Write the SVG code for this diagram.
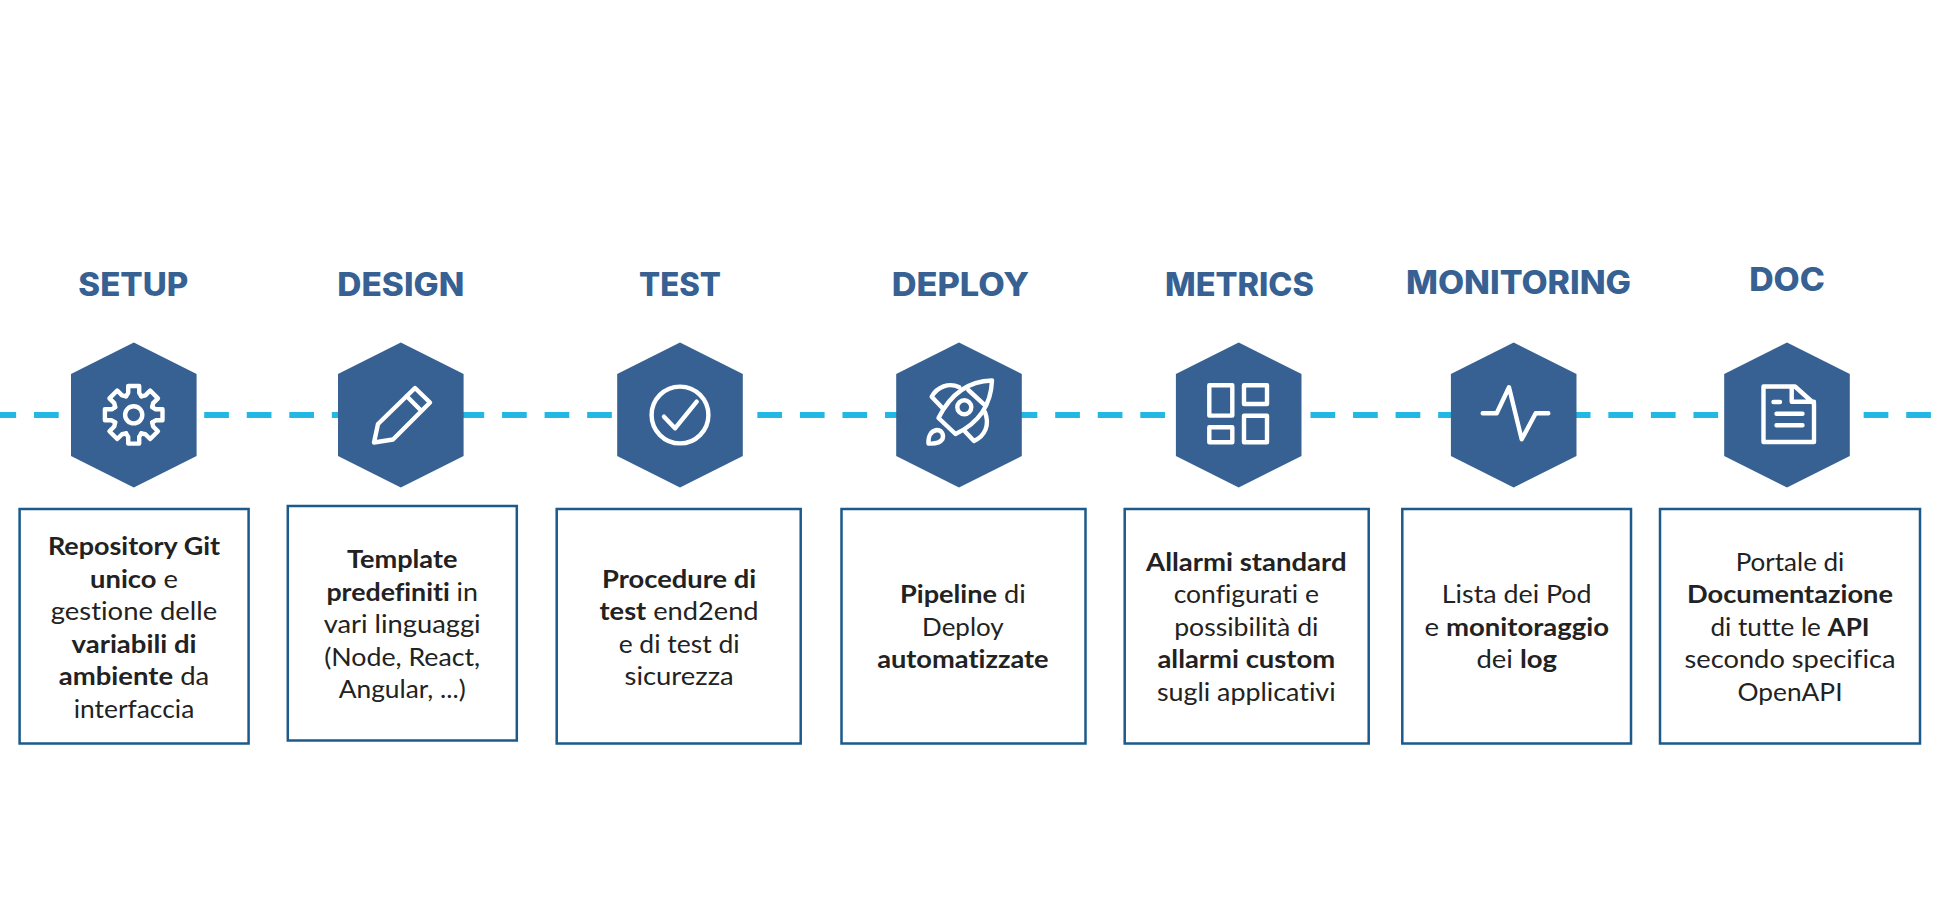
<svg xmlns="http://www.w3.org/2000/svg" width="1940" height="912" viewBox="0 0 1940 912">
<style>
.hex{fill:#366192}
.ttl{font-family:"Inter","Liberation Sans",sans-serif;font-weight:800;font-size:32px;fill:#376192;text-anchor:middle}
.box{fill:#fff;stroke:#1b5a8a;stroke-width:2.5}
.t{font-family:"Lato","Liberation Sans",sans-serif;font-size:25.5px;fill:#222;text-anchor:middle;font-variant-ligatures:none}
.b{font-weight:700}
.ic{fill:none;stroke:#fff;stroke-width:4.4;stroke-linejoin:round;stroke-linecap:round}
.dash{fill:none;stroke:#22b8e3;stroke-width:6;stroke-dasharray:24.7 17.85}
</style>
<defs>
<polygon id="hx" class="hex" points="0,-72.5 62.8,-41 62.8,41 0,72.5 -62.8,41 -62.8,-41"/>
<path id="tooth" d="M18.5 -7.65L22 -5.5L28.8 -5.5L28.8 5.5L22 5.5L18.5 7.65"/>
</defs>
<rect width="1940" height="912" fill="#fff"/>
<g id="connectors"><path class="dash" d="M-8.55 415H1931"/></g>

<g id="setup">
<text class="ttl" x="133.3" y="296" textLength="110" lengthAdjust="spacingAndGlyphs">SETUP</text>
<use href="#hx" x="133.8" y="415"/>
<g class="ic" transform="translate(133.7 414.8)">
<circle r="8.6"/>
<use href="#tooth"/><use href="#tooth" transform="rotate(45)"/><use href="#tooth" transform="rotate(90)"/><use href="#tooth" transform="rotate(135)"/><use href="#tooth" transform="rotate(180)"/><use href="#tooth" transform="rotate(225)"/><use href="#tooth" transform="rotate(270)"/><use href="#tooth" transform="rotate(315)"/>
</g>
<rect class="box" x="19.6" y="509" width="229" height="234.5"/>
<text class="t" x="134" y="555" textLength="172.2" lengthAdjust="spacingAndGlyphs"><tspan class="b">Repository Git</tspan></text>
<text class="t" x="134" y="587.5" textLength="87.8" lengthAdjust="spacingAndGlyphs"><tspan class="b">unico</tspan> e</text>
<text class="t" x="134" y="620" textLength="166.3" lengthAdjust="spacingAndGlyphs">gestione delle</text>
<text class="t" x="134" y="652.5" textLength="125" lengthAdjust="spacingAndGlyphs"><tspan class="b">variabili di</tspan></text>
<text class="t" x="134" y="685" textLength="150.5" lengthAdjust="spacingAndGlyphs"><tspan class="b">ambiente</tspan> da</text>
<text class="t" x="134" y="717.5" textLength="120.5" lengthAdjust="spacingAndGlyphs">interfaccia</text>
</g>

<g id="design">
<text class="ttl" x="400.8" y="296" textLength="127" lengthAdjust="spacingAndGlyphs">DESIGN</text>
<use href="#hx" x="400.8" y="415"/>
<path class="ic" d="M374 442.5L378 424L415 388L430 402.5L393 439.5ZM406.5 396L421.5 411"/>
<rect class="box" x="287.8" y="506" width="229" height="234.5"/>
<text class="t" x="402.2" y="568.3" textLength="110.5" lengthAdjust="spacingAndGlyphs"><tspan class="b">Template</tspan></text>
<text class="t" x="402.2" y="600.8" textLength="151.5" lengthAdjust="spacingAndGlyphs"><tspan class="b">predefiniti</tspan> in</text>
<text class="t" x="402.2" y="633.3" textLength="157" lengthAdjust="spacingAndGlyphs">vari linguaggi</text>
<text class="t" x="402.2" y="665.8" textLength="156" lengthAdjust="spacingAndGlyphs">(Node, React,</text>
<text class="t" x="402.2" y="698.3" textLength="127" lengthAdjust="spacingAndGlyphs">Angular, ...)</text>
</g>

<g id="test">
<text class="ttl" x="680" y="296" textLength="82" lengthAdjust="spacingAndGlyphs">TEST</text>
<use href="#hx" x="680" y="415"/>
<g class="ic"><circle cx="680" cy="415" r="28.4"/><path d="M664 416.7L675 428.3L696.7 401.7"/></g>
<rect class="box" x="556.7" y="509" width="244" height="234.5"/>
<text class="t" x="679.1" y="587.8" textLength="154" lengthAdjust="spacingAndGlyphs"><tspan class="b">Procedure di</tspan></text>
<text class="t" x="679.1" y="620.3" textLength="159" lengthAdjust="spacingAndGlyphs"><tspan class="b">test</tspan> end2end</text>
<text class="t" x="679.1" y="652.8" textLength="120.9" lengthAdjust="spacingAndGlyphs">e di test di</text>
<text class="t" x="679.1" y="685.3" textLength="109.2" lengthAdjust="spacingAndGlyphs">sicurezza</text>
</g>

<g id="deploy">
<text class="ttl" x="960.3" y="296" textLength="137.3" lengthAdjust="spacingAndGlyphs">DEPLOY</text>
<use href="#hx" x="959" y="415"/>
<g class="ic">
<path d="M992 380.5C970 381 951 393 938.5 418L955.5 434C979 423 991 405 992 380.5Z"/>
<path d="M968.3 390L984 404.3"/>
<circle cx="964.3" cy="407.3" r="7"/>
<path d="M959.3 387.3C949 382 937 387 931.7 396.7L942.7 408.3"/>
<path d="M985 412.3C990 425 985 436 974 441L965 431.5"/>
<path d="M928.5 443.5C928 436 931 431 936.7 430C942 430 944 435 942.5 439C940 443 935 444 928.5 443.5Z"/>
</g>
<rect class="box" x="841.5" y="509" width="244" height="234.5"/>
<text class="t" x="962.9" y="603.3" textLength="125.7" lengthAdjust="spacingAndGlyphs"><tspan class="b">Pipeline</tspan> di</text>
<text class="t" x="962.9" y="635.8" textLength="81.6" lengthAdjust="spacingAndGlyphs">Deploy</text>
<text class="t" x="962.9" y="668.3" textLength="171.5" lengthAdjust="spacingAndGlyphs"><tspan class="b">automatizzate</tspan></text>
</g>

<g id="metrics">
<text class="ttl" x="1239.5" y="296" textLength="149" lengthAdjust="spacingAndGlyphs">METRICS</text>
<use href="#hx" x="1238.7" y="415"/>
<g class="ic">
<rect x="1209.3" y="385.3" width="23" height="30.3"/>
<rect x="1244" y="385.3" width="23" height="18.7"/>
<rect x="1209.3" y="427.3" width="23" height="15"/>
<rect x="1244" y="415.7" width="23" height="26.6"/>
</g>
<rect class="box" x="1124.7" y="509" width="244" height="234.5"/>
<text class="t" x="1246.3" y="571" textLength="200.4" lengthAdjust="spacingAndGlyphs"><tspan class="b">Allarmi standard</tspan></text>
<text class="t" x="1246.3" y="603.4" textLength="145.3" lengthAdjust="spacingAndGlyphs">configurati e</text>
<text class="t" x="1246.3" y="635.8" textLength="144.3" lengthAdjust="spacingAndGlyphs">possibilità di</text>
<text class="t" x="1246.3" y="668.3" textLength="177.7" lengthAdjust="spacingAndGlyphs"><tspan class="b">allarmi custom</tspan></text>
<text class="t" x="1246.3" y="700.7" textLength="178.7" lengthAdjust="spacingAndGlyphs">sugli applicativi</text>
</g>

<g id="monitoring">
<text class="ttl" x="1518.5" y="294" textLength="225" lengthAdjust="spacingAndGlyphs">MONITORING</text>
<use href="#hx" x="1513.7" y="415"/>
<path class="ic" d="M1482.7 413.3H1496.7L1509 387.3L1521.7 439.3L1535.7 413.3H1548.3"/>
<rect class="box" x="1402.3" y="509" width="228.7" height="234.5"/>
<text class="t" x="1516.7" y="603" textLength="149.8" lengthAdjust="spacingAndGlyphs">Lista dei Pod</text>
<text class="t" x="1516.7" y="635.5" textLength="184.6" lengthAdjust="spacingAndGlyphs">e <tspan class="b">monitoraggio</tspan></text>
<text class="t" x="1516.7" y="668" textLength="80.6" lengthAdjust="spacingAndGlyphs">dei <tspan class="b">log</tspan></text>
</g>

<g id="doc">
<text class="ttl" x="1787" y="291" textLength="75.7" lengthAdjust="spacingAndGlyphs">DOC</text>
<use href="#hx" x="1787" y="415"/>
<path class="ic" d="M1763.5 386.5H1795L1814 403.5V442H1763.5ZM1791.7 386.5V401.7H1814M1773.5 402H1780M1776.5 413.7H1802.5M1776.5 425.3H1802.5"/>
<rect class="box" x="1660" y="509" width="260" height="234.5"/>
<text class="t" x="1790" y="571" textLength="108.7" lengthAdjust="spacingAndGlyphs">Portale di</text>
<text class="t" x="1790" y="603.4" textLength="206" lengthAdjust="spacingAndGlyphs"><tspan class="b">Documentazione</tspan></text>
<text class="t" x="1790" y="635.8" textLength="159" lengthAdjust="spacingAndGlyphs">di tutte le <tspan class="b">API</tspan></text>
<text class="t" x="1790" y="668.3" textLength="211" lengthAdjust="spacingAndGlyphs">secondo specifica</text>
<text class="t" x="1790" y="700.7" textLength="105" lengthAdjust="spacingAndGlyphs">OpenAPI</text>
</g>
</svg>
